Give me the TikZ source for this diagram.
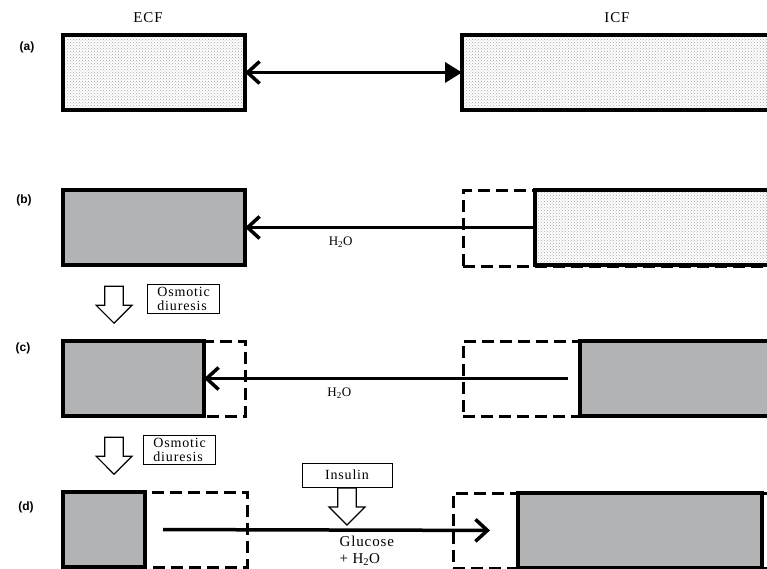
\documentclass[tikz,border=0pt]{standalone}
\usepackage{fontspec}
\setmainfont{Liberation Serif}[LetterSpace=6]
\newfontfamily\panelfont{Liberation Sans}
\usepackage{tikz}
\usetikzlibrary{positioning,arrows.meta,patterns,shapes.arrows}
\definecolor{fluidgray}{RGB}{178,179,181}

\begin{document}
\begin{tikzpicture}[
    x=1pt, y=-1pt,
    every node/.style={font=\fontsize{15}{17}\selectfont},
    fluidbox/.style={draw, line width=3.5pt, anchor=north west, minimum height=75pt, inner sep=0pt, outer sep=0pt},
    dotbox/.style={fluidbox, preaction={fill=white}, pattern=crosshatch dots, pattern color=black!35},
    graybox/.style={fluidbox, fill=fluidgray},
    ghost/.style={fluidbox, line width=3pt, dash pattern=on 12pt off 6pt},
    panel/.style={font=\panelfont\bfseries\fontsize{12}{14}\selectfont},
    flow/.style={line width=3.5pt, -{Straight Barb[length=12pt,width=22pt,line width=3.5pt]}},
    hollow/.style={single arrow, draw, line width=1.2pt, fill=white, shape border rotate=270, inner sep=7pt, minimum width=36pt, minimum height=37pt},
    notebox/.style={draw, line width=0.8pt, align=left, inner xsep=10pt, inner ysep=3pt, font=\fontsize{14}{14}\selectfont},
    water/.style={font=\fontsize{13}{14}\selectfont}
]
\useasboundingbox (0,0) rectangle (767,569);
\clip (0,0) rectangle (767,569);

\node (ecfname) at (148,18) {ECF};
\node (icfname) at (617,18) {ICF};

\node[panel] (la) at (27,47) {(a)};
\node[dotbox, minimum width=182pt] (ecfA) at (63,35) {};
\node[dotbox, minimum width=330pt] (icfA) at (462,35) {};
\draw[line width=3.5pt, {Straight Barb[length=12pt,width=22pt,line width=3.5pt]}-{Triangle[length=17pt,width=20pt]}] (ecfA.east) -- (icfA.west);

\node[panel] (lb) at (24,200) {(b)};
\node[graybox, minimum width=182pt] (ecfB) at (63,190) {};
\node[ghost, minimum width=300pt] (oldB) at (463,191) {};
\node[dotbox, minimum width=260pt] (icfB) at (535,190) {};
\draw[flow] (icfB.west) -- (ecfB.east) node[water, pos=0.67, below=4pt] (waterB) {H\textsubscript{2}O};

\node[hollow] (dropB) at (114,300) {};
\node[notebox, anchor=west] (osmB) at (147,299) {Osmotic\\diuresis};

\node[panel] (lc) at (23,348) {(c)};
\node[ghost, minimum width=182pt] (oldC) at (63,341) {};
\node[graybox, minimum width=141pt] (ecfC) at (63,341) {};
\node[ghost, minimum width=320pt] (oldC2) at (463,341) {};
\node[graybox, minimum width=200pt] (icfC) at (580,341) {};
\draw[flow, shorten <=12pt] (icfC.west) -- (ecfC.east) node[water, pos=0.64, below=4pt] (waterC) {H\textsubscript{2}O};

\node[hollow] (dropC) at (114,451) {};
\node[notebox, anchor=west] (osmC) at (143,450) {Osmotic\\diuresis};

\node[panel] (ld) at (26,507) {(d)};
\node[ghost, minimum width=184pt] (oldD) at (63,492) {};
\node[graybox, minimum width=82pt] (ecfD) at (63,492) {};
\node[ghost, minimum width=330pt] (oldD2) at (453,493) {};
\node[graybox, minimum width=244pt] (icfD) at (518,493) {};
\draw[flow, shorten <=18pt, shorten >=28pt] (ecfD.east) -- (icfD.west);
\node[notebox, minimum width=90pt, minimum height=24pt, align=center] (insulin) at (347,475) {Insulin};
\node[hollow, below=0pt of insulin] (push) {};
\node[anchor=west, align=left] (glucose) at (336,551) {Glucose\\+ H\textsubscript{2}O};
\end{tikzpicture}
\end{document}
